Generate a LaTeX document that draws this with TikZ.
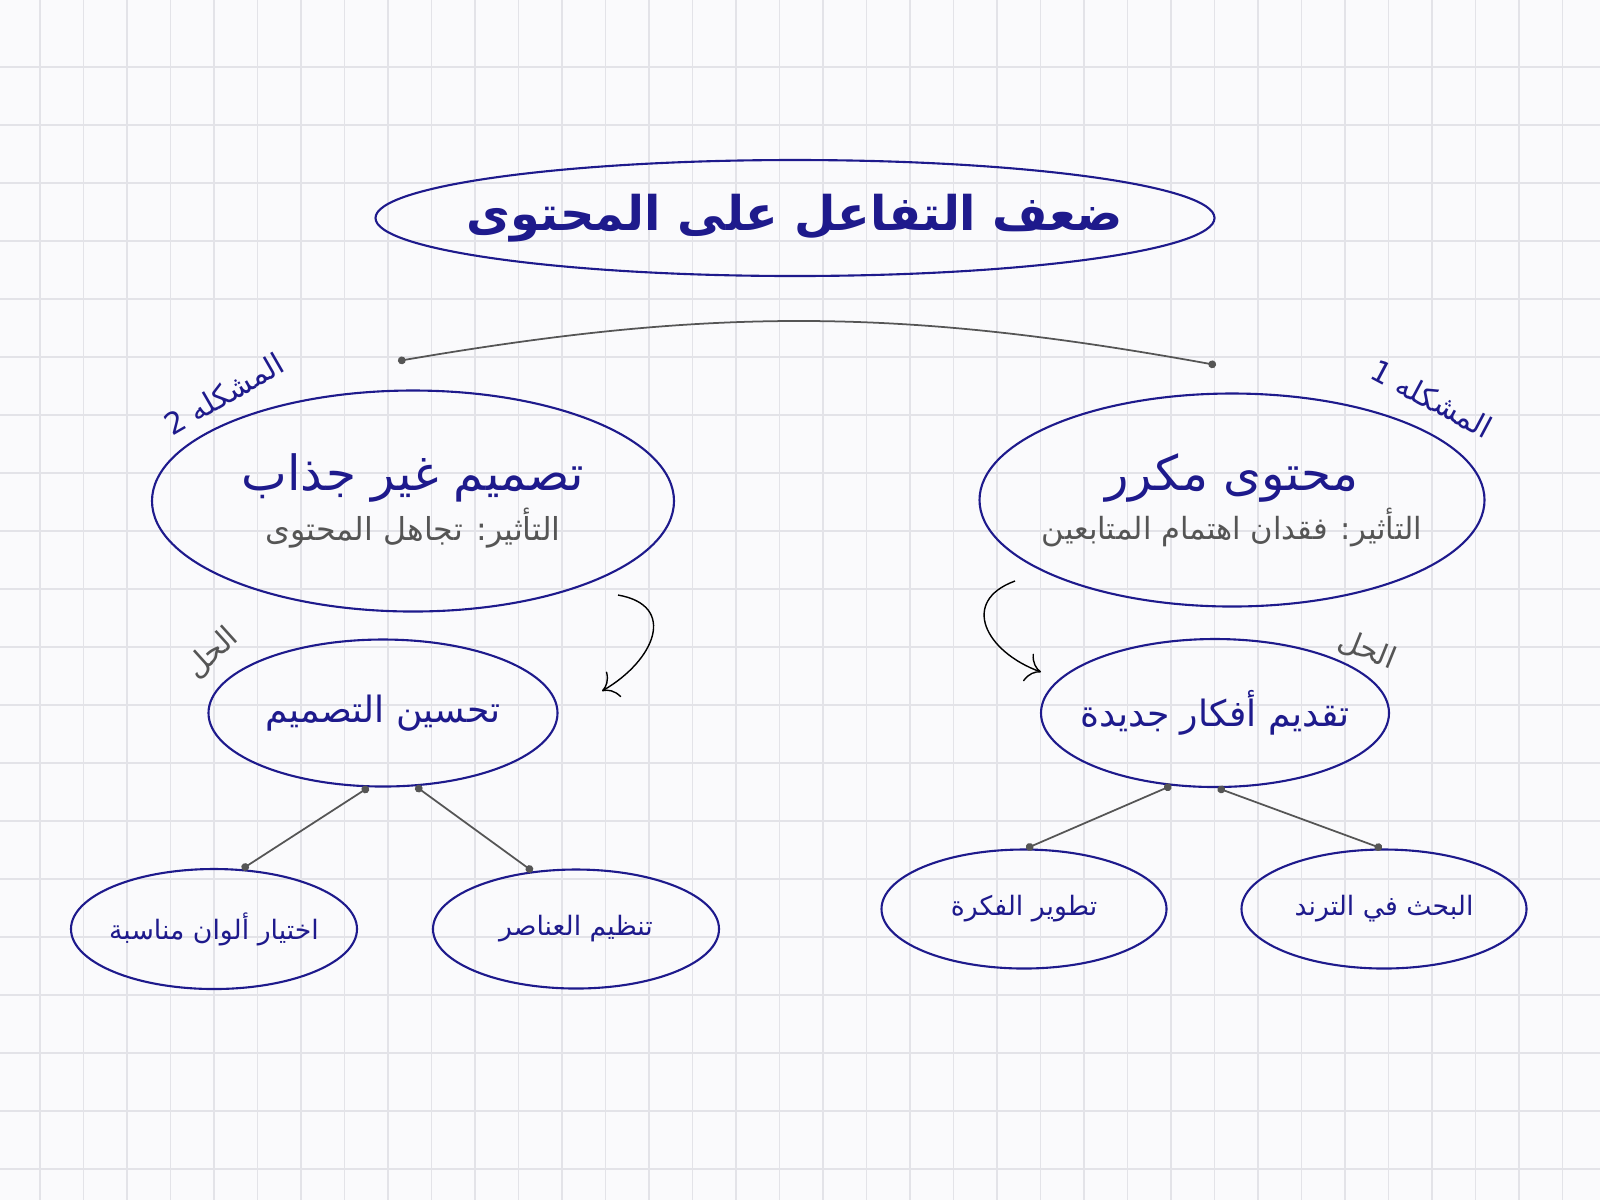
\documentclass[tikz,border=0pt]{standalone}
\usepackage{fontspec}
\usepackage{xcolor}
\usepackage{tikz}
\usetikzlibrary{arrows.meta,shapes.geometric,positioning}
\TeXXeTstate=1
\newfontfamily\arabicfont[Script=Arabic]{DejaVu Sans}
\definecolor{inkblue}{HTML}{1E1A8C}
\definecolor{inkgray}{HTML}{555555}
\definecolor{gridgray}{HTML}{E3E3E8}
\definecolor{paper}{HTML}{FAFAFC}
\newcommand{\rtl}[1]{\beginR#1\endR}

\begin{document}
\begin{tikzpicture}[>=Stealth, semithick]
  \tikzstyle{bubble}=[draw=inkblue, ellipse, line width=0.6pt, inner sep=0pt]
  \tikzstyle{words}=[text=inkblue, inner sep=0pt, align=center]
  \tikzstyle{tag}=[font=\arabicfont\fontsize{8.5}{10}\selectfont, inner sep=0pt]
  \tikzstyle{link}=[draw=inkgray, line width=0.5pt, {Circle[length=2.2pt]}-{Circle[length=2.2pt]}]
  \tikzstyle{turn}=[draw=black, line width=0.4pt, -{To[length=4pt]}]
  % paper and grid
  \fill[paper] (0,0) rectangle (16,-12);
  \useasboundingbox (0,0) rectangle (16,-12);
  \foreach \i in {0,...,36} \draw[gridgray, line width=0.4pt] ({0.40+0.435*\i},0) -- ++(0,-12);
  \foreach \j in {0,...,19} \draw[gridgray, line width=0.4pt] (0,{-0.67-0.58*\j}) -- ++(16,0);
  % main problem
  \node[bubble, minimum width=8.39cm, minimum height=1.16cm] (top) at (7.95,-2.18) {};
  \node[words, font=\arabicfont\bfseries\fontsize{13.6}{16}\selectfont] (topt) at (top) {\rtl{ضعف التفاعل على المحتوى}};
  % problems
  \node[bubble, minimum width=5.22cm, minimum height=2.21cm] (p2) at (4.13,-5.01) {};
  \node[words, font=\arabicfont\fontsize{13.8}{16}\selectfont] (p2t) at (p2) 
     {\rtl{تصميم غير جذاب}\\[-2pt] {\color{inkgray}\fontsize{9}{11}\selectfont\rtl{التأثير: تجاهل المحتوى}}};
  \node[bubble, minimum width=5.05cm, minimum height=2.13cm] (p1) at (12.32,-5.00) {};
  \node[words, font=\arabicfont\fontsize{13.8}{16}\selectfont] (p1t) at (p1)
     {\rtl{محتوى مكرر}\\[-2pt] {\color{inkgray}\fontsize{8.7}{11}\selectfont\rtl{التأثير: فقدان اهتمام المتابعين}}};
  \node[tag, text=inkblue, rotate=30] (n2) at (2.24,-3.94) {\rtl{المشكله 2}};
  \node[tag, text=inkblue, rotate=-28] (n1) at (14.32,-3.99) {\rtl{المشكله 1}};
  % solutions
  \node[bubble, minimum width=3.49cm, minimum height=1.47cm] (s2) at (3.83,-7.13) {};
  \node[words, font=\arabicfont\fontsize{10.3}{12}\selectfont] (s2t) at (s2) {\rtl{تحسين التصميم}};
  \node[bubble, minimum width=3.48cm, minimum height=1.48cm] (s1) at (12.15,-7.13) {};
  \node[words, font=\arabicfont\fontsize{10.3}{12}\selectfont] (s1t) at (s1) {\rtl{تقديم أفكار جديدة}};
  \node[tag, text=inkgray, rotate=42] (h2) at (2.12,-6.53) {\rtl{الحل}};
  \node[tag, text=inkgray, rotate=-22] (h1) at (13.67,-6.50) {\rtl{الحل}};
  % steps
  \node[bubble, minimum width=2.86cm, minimum height=1.20cm] (b21) at (2.14,-9.29) {};
  \node[words, font=\arabicfont\fontsize{7.6}{9}\selectfont] (b21t) at (b21) {\rtl{اختيار ألوان مناسبة}};
  \node[bubble, minimum width=2.86cm, minimum height=1.19cm] (b22) at (5.76,-9.29) {};
  \node[words, font=\arabicfont\fontsize{7.6}{9}\selectfont] (b22t) at (b22) {\rtl{تنظيم العناصر}};
  \node[bubble, minimum width=2.85cm, minimum height=1.19cm] (b11) at (10.24,-9.09) {};
  \node[words, font=\arabicfont\fontsize{7.6}{9}\selectfont] (b11t) at (b11) {\rtl{تطوير الفكرة}};
  \node[bubble, minimum width=2.85cm, minimum height=1.19cm] (b12) at (13.84,-9.09) {};
  \node[words, font=\arabicfont\fontsize{7.6}{9}\selectfont] (b12t) at (b12) {\rtl{البحث في الترند}};
  % connectors
  \coordinate (j2) at (3.98,-3.61);
  \coordinate (j1) at (12.16,-3.65);
  \draw[link] (j2) to[bend left=10] (j1);
  \coordinate (c2a) at (6.18,-5.95);
  \coordinate (c2b) at (6.02,-6.91);
  \draw[turn] (c2a) to[out=-10, in=30, looseness=1.6] (c2b);
  \coordinate (c1a) at (10.15,-5.81);
  \coordinate (c1b) at (10.41,-6.72);
  \draw[turn] (c1a) to[out=200, in=160, looseness=1.6] (c1b);
  \draw[link] (s2.259) -- (b21.65);
  \draw[link] (s2.-66) -- (b22.127);
  \draw[link] (s1.-121) -- (b11.88);
  \draw[link] (s1.-88) -- (b12.92);
\end{tikzpicture}
\end{document}
